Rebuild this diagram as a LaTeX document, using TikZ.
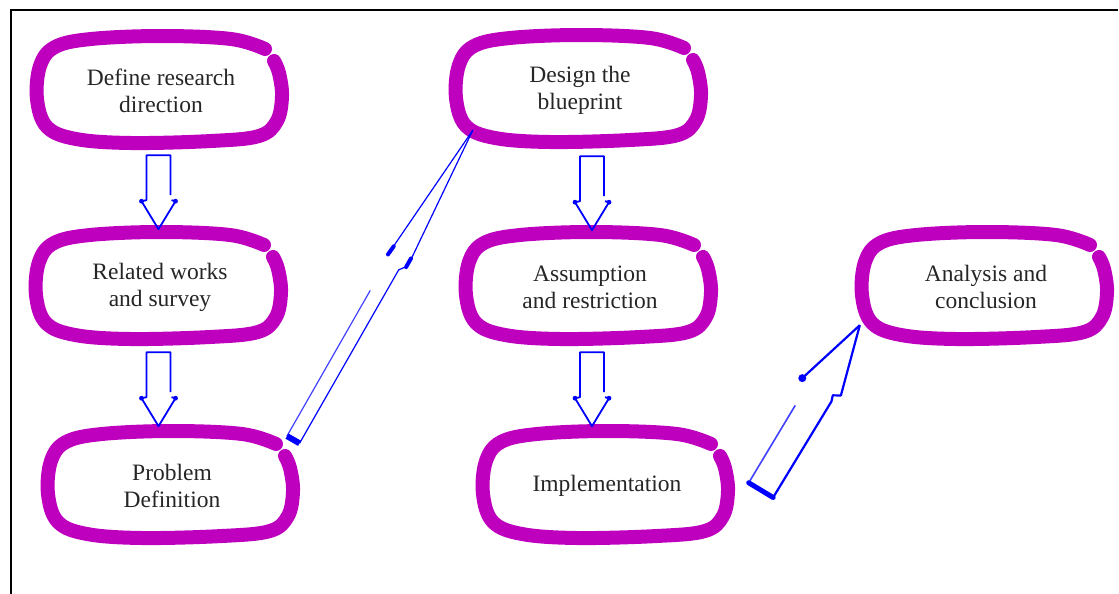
\documentclass[tikz,border=0pt]{standalone}
\usepackage{fontspec}
\setmainfont{Liberation Serif}
\usetikzlibrary{calc}
\definecolor{loopmag}{RGB}{190,0,190}
\definecolor{arrblue}{RGB}{0,0,255}

\tikzset{
  boxtext/.style={font=\fontsize{23.5}{27}\selectfont, text=black!85, align=center,
    minimum width=244pt, minimum height=100pt, inner sep=0pt},
  loopline/.style={draw=loopmag, line width=14pt, line cap=round, line join=round},
  blockarrow/.style={draw=arrblue, line width=1.8pt, line join=round},
  thinarrow/.style={draw=arrblue, line width=1.2pt, line join=round},
  midarrow/.style={draw=arrblue, line width=2.2pt, line join=round},
  % hand-drawn open ring around a step
  scrawl/.pic={
    \draw[loopline] plot[smooth, tension=0.6] coordinates {
      (104,-42) (70,-52) (0,-55) (-70,-52) (-106,-44) (-121,-25) (-124,8)
      (-114,36) (-85,48) (-30,52) (50,50) (98,45) (116,30) (121,5)
      (118,-18) (113,-30)};
  },
  % hollow downward block arrow, origin at the top of the shaft
  downarr/.pic={
    \draw[blockarrow] (12,40) -- (12,0) -- (-12,0) -- (-12,45) -- (-17,46)
      -- (0,74) -- (17,46) -- (13,45);
    \fill[arrblue] (-17,46) circle (2.4pt);
    \fill[arrblue] (17,46) circle (2.4pt);
  }
}

\begin{document}
\begin{tikzpicture}[x=1pt,y=-1pt]
\useasboundingbox (0,0) rectangle (1119,594);

% frame
\draw[line width=2.2pt, line join=miter] (1118,10) -- (11,10) -- (11,594);

% steps
\node[boxtext] (n1) at (161,91)  {Define research\\direction};
\node[boxtext] (n2) at (160,287) {Related works\\and survey};
\node[boxtext] (n3) at (172,486) {Problem\\Definition};
\node[boxtext] (n4) at (580,90)  {Design the\\blueprint};
\node[boxtext] (n5) at (590,287) {Assumption\\and restriction};
\node[boxtext] (n6) at (607,486) {Implementation};
\node[boxtext] (n7) at (986,287) {Analysis and\\conclusion};

\foreach \n in {n1,n2,n3,n4,n5,n6,n7} \pic at (\n) {scrawl};

% vertical flow
\pic at ($(n1.south)+(-2.5,14)$) {downarr};
\pic at ($(n2.south)+(-1.5,15)$) {downarr};
\pic at ($(n4.south)+(12,16)$)   {downarr};
\pic at ($(n5.south)+(2,15)$)    {downarr};

% long slanted arrow: Problem Definition -> Design the blueprint
\coordinate (tA) at ($(n4.south west)+(15,-10)$);
\coordinate (bA) at ($(n3.north east)+(1,5)$);
\draw[thinarrow] (tA) -- ($(tA)!150pt!(bA)!11pt!90:(bA)$)
  -- ($(tA)!158pt!(bA)!5pt!90:(bA)$) -- ($(bA)!5pt!-90:(tA)$);
\draw[thinarrow] (tA) -- ($(tA)!150pt!(bA)!12pt!-90:(bA)$);
\draw[thinarrow, draw=arrblue!75] ($(tA)!190pt!(bA)!9.5pt!-90:(bA)$) -- ($(bA)!9.5pt!90:(tA)$);
\draw[arrblue, line width=4pt, line cap=round]
  ($(tA)!140pt!(bA)!11pt!-90:(bA)$) -- ($(tA)!150pt!(bA)!12pt!-90:(bA)$);
\draw[arrblue, line width=4pt, line cap=round]
  ($(tA)!142pt!(bA)!10pt!90:(bA)$) -- ($(tA)!152pt!(bA)!10pt!90:(bA)$);
\draw[arrblue, line width=6pt]
  ($(bA)!9.5pt!90:(tA)$) -- ($(bA)!5pt!-90:(tA)$);

% short slanted arrow: Implementation -> Analysis and conclusion
\coordinate (tB) at ($(n7.south west)+(-4,-12)$);
\coordinate (bB) at ($(n6.east)+(31.5,4)$);
\draw[midarrow] (tB) -- ($(tB)!70pt!(bB)!20pt!90:(bB)$)
  -- ($(tB)!74pt!(bB)!13pt!90:(bB)$) -- ($(tB)!80pt!(bB)!15pt!90:(bB)$)
  -- ($(bB)!14.5pt!-90:(tB)$);
\draw[midarrow] (tB) -- ($(tB)!75pt!(bB)!22pt!-90:(bB)$);
\fill[arrblue] ($(tB)!75pt!(bB)!22pt!-90:(bB)$) circle (4pt);
\draw[midarrow, draw=arrblue!75, line width=1.6pt]
  ($(tB)!102pt!(bB)!14pt!-90:(bB)$) -- ($(bB)!14pt!90:(tB)$);
\draw[arrblue, line width=5pt, line cap=round]
  ($(bB)!14pt!90:(tB)$) -- ($(bB)!14.5pt!-90:(tB)$);
\end{tikzpicture}
\end{document}
